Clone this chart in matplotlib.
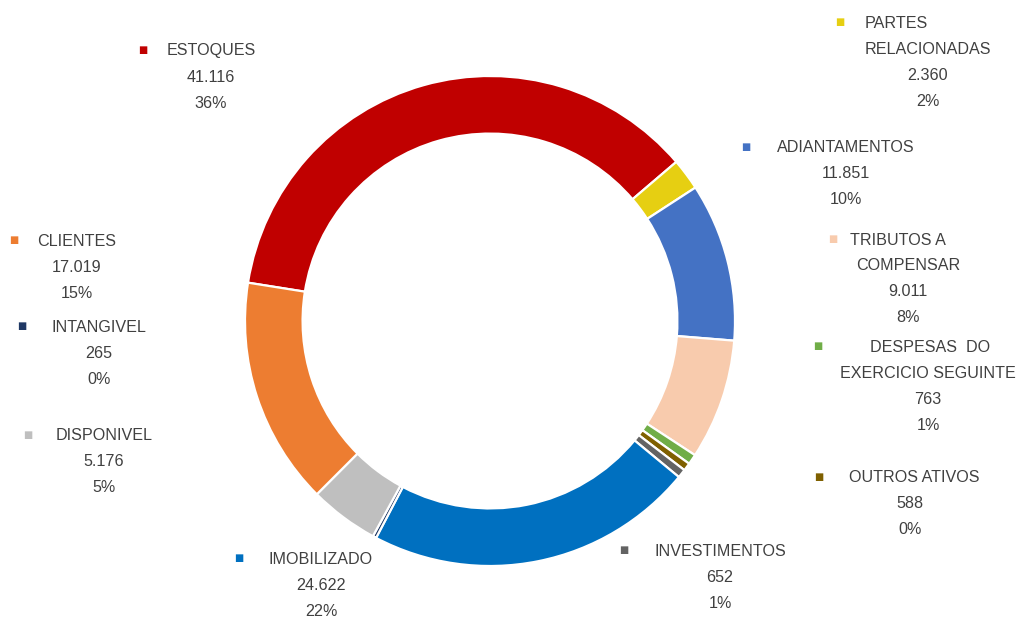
import matplotlib.pyplot as plt

plt.rcParams['font.family'] = ['Liberation Sans', 'DejaVu Sans']

# slices in clockwise order, starting with ESTOQUES
names = ["ESTOQUES", "PARTES\nRELACIONADAS", "ADIANTAMENTOS", "TRIBUTOS A\nCOMPENSAR",
         "DESPESAS  DO\nEXERCICIO SEGUINTE", "OUTROS ATIVOS", "INVESTIMENTOS",
         "IMOBILIZADO", "INTANGIVEL", "DISPONIVEL", "CLIENTES"]
values = [41116, 2360, 11851, 9011, 763, 588, 652, 24622, 265, 5176, 17019]
percents = ["36%", "2%", "10%", "8%", "1%", "0%", "1%", "22%", "0%", "5%", "15%"]
colors = ["#C00000", "#E6CF12", "#4472C4", "#F8CBAD", "#70AD47", "#7F6000",
          "#636363", "#0070C0", "#1F3864", "#BFBFBF", "#ED7D31"]

# label layout in pixels (top-left origin): marker x, marker y, first line x, block x
label_pos = [
    (143, 50, 211, 211),
    (840, 22, 896, 928),
    (746, 147, 846, 846),
    (833, 239, 898, 908),
    (818, 346, 930, 928),
    (819, 477, 914, 910),
    (624, 550, 720, 720),
    (239, 558, 321, 321),
    (22, 326, 99, 99),
    (28, 435, 104, 104),
    (14, 240, 77, 77),
]

W, H = 1020, 618
fig = plt.figure(figsize=(W / 100, H / 100), dpi=100)

cx, cy, r = 490, 321, 245
ax = fig.add_axes([(cx - r) / W, (H - cy - r) / H, 2 * r / W, 2 * r / H])
ax.pie(values, colors=colors, startangle=171, counterclock=False,
       wedgeprops=dict(width=0.235, edgecolor="white", linewidth=1.6))
ax.set_xlim(-1, 1)
ax.set_ylim(-1, 1)
ax.set_aspect("equal")

txt = "#404040"
fs = 11.6
step = 26
for name, v, p, c, (mx, my, fx, bx) in zip(names, values, percents, colors, label_pos):
    lines = name.split("\n")
    fig.text(mx / W, 1 - my / H, "\u25A0", color=c, fontsize=7,
             ha="center", va="center", family="DejaVu Sans")
    fig.text(fx / W, 1 - (my + 1) / H, lines[0], color=txt, fontsize=fs,
             ha="center", va="center")
    rest = lines[1:] + [f"{v:,}".replace(",", "."), p]
    for i, line in enumerate(rest):
        y = my + 1 + step * (i + 1)
        fig.text(bx / W, 1 - y / H, line, color=txt, fontsize=fs,
                 ha="center", va="center")

fig.savefig("out.png", dpi=100)
